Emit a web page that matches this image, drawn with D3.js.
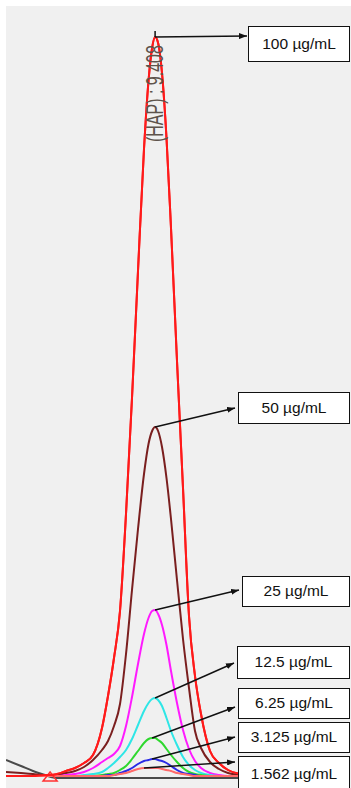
<!DOCTYPE html>
<html>
<head>
<meta charset="utf-8">
<script src="https://cdn.jsdelivr.net/npm/d3@7"></script>
<style>
  html, body { margin: 0; padding: 0; background: #ffffff; }
  svg { display: block; }
</style>
</head>
<body>
<svg id="chart" width="351" height="788"></svg>
<script>
// ---- Data (retention time in min, signal in mAU) ----
const times = [8.91, 8.96, 9.00, 9.04, 9.06, 9.08, 9.11, 9.14, 9.17, 9.20, 9.23, 9.25, 9.27, 9.29, 9.31, 9.33, 9.35, 9.37, 9.385, 9.397, 9.407, 9.417, 9.43, 9.445, 9.46, 9.48, 9.50, 9.52, 9.54, 9.56, 9.59, 9.62, 9.65, 9.69, 9.75, 9.85, 10.05];

const blank  = [16, 10, 5, 1, -1, -2, -2, -2, -2, -2, -2, -2, -2, -2, -2, -2, -2, -2, -2, -2, -2, -2, -2, -2, -2, -2, -2, -2, -2, -2, -2, -2, -2, -2, -2, -2, -2];
const c100   = [0, 0, 0, 1, 1, 2, 5, 8, 13, 21, 48, 80, 118, 165, 262, 378, 505, 627, 695, 728, 739, 733, 703, 638, 548, 415, 288, 160, 100, 62, 25, 13, 6, 2, 0, 0, 0];
const c50    = [4, 3, 2, 1, 1, 1, 3, 5, 9, 16, 26, 35, 50, 72, 122, 186, 247, 302, 332, 345, 349, 345, 329, 298, 257, 196, 137, 88, 45, 28, 14, 7, 3, 1, 0, 0, 0];
const c25    = [0, 0, 0, 0, 0, 0, 1, 2, 4, 8, 14, 18, 22, 30, 50, 79, 112, 142, 158, 165, 166, 162, 151, 131, 105, 73, 46, 27, 15, 8, 3, 1, 0, 0, 0, 0, 0];
const c12_5  = [0, 0, 0, 0, 0, 0, 0, 0, 1, 2, 4, 8, 13, 19, 26, 37, 51, 65, 73, 77, 78, 76, 70, 58, 45, 31, 19, 11, 6, 3, 1, 0, 0, 0, 0, 0, 0];
const c6_25  = [0, 0, 0, 0, 0, 0, 0, 0, 0, 0, 1, 2, 3, 6, 10, 17, 25, 33, 37, 38, 38, 36, 33, 27, 21, 14, 8, 4, 2, 1, 0, 0, 0, 0, 0, 0, 0];
const c3_125 = [0, 0, 0, 0, 0, 0, 0, 0, 0, 0, 0, 1, 1, 3, 5, 8, 12, 15, 16, 17, 17, 16, 15, 13, 10, 6, 3, 2, 1, 0, 0, 0, 0, 0, 0, 0, 0];
const c1_562 = [0, 0, 0, 0, 0, 0, 0, 0, 0, 0, 0, 0, 1, 2, 3, 5, 7, 8, 8, 8, 8, 8, 7, 6, 5, 3, 2, 1, 0, 0, 0, 0, 0, 0, 0, 0, 0];

const seriesNames  = ["blank", "100 µg/mL", "50 µg/mL", "25 µg/mL", "12.5 µg/mL", "6.25 µg/mL", "3.125 µg/mL", "1.562 µg/mL"];
const seriesValues = [blank, c100, c50, c25, c12_5, c6_25, c3_125, c1_562];
const seriesColors = ["#4a4a4a", "#ff1a1a", "#7a1f1f", "#ff1aff", "#2ee6e6", "#2ed82e", "#2a2ae6", "#ff6a6a"];

const peakLabel = "(HAP) : 9.408";
const peakStartTime = 9.057;

// annotation boxes (label layout)
const labelBoxes = [
  { name: "100 µg/mL",   x: 248, y: 26,  w: 102, h: 36, tip: [247, 36] },
  { name: "50 µg/mL",    x: 238, y: 392, w: 112, h: 32, tip: [235, 408] },
  { name: "25 µg/mL",    x: 242, y: 576, w: 108, h: 31, tip: [239, 590] },
  { name: "12.5 µg/mL",  x: 237, y: 646, w: 113, h: 33, tip: [234, 663] },
  { name: "6.25 µg/mL",  x: 238, y: 688, w: 112, h: 31, tip: [235, 707] },
  { name: "3.125 µg/mL", x: 238, y: 722, w: 112, h: 31, tip: [235, 737] },
  { name: "1.562 µg/mL", x: 238, y: 756, w: 112, h: 36, tip: [235, 762] }
];

// ---- Drawing ----
const W = 351, H = 788;
const svg = d3.select("#chart");

const plot = { left: 6, top: 6, right: 351, bottom: 788 };

const x = d3.scaleLinear().domain([8.9, 10.05]).range([3, 348]);
const y = d3.scaleLinear().domain([0, 740]).range([776, 36]);

svg.append("rect").attr("x", 0).attr("y", 0).attr("width", W).attr("height", H).attr("fill", "#ffffff");
svg.append("rect")
  .attr("x", plot.left).attr("y", plot.top)
  .attr("width", plot.right - plot.left).attr("height", plot.bottom - plot.top)
  .attr("fill", "#f0f0f0");

svg.append("defs").append("clipPath").attr("id", "clip")
  .append("rect").attr("x", plot.left).attr("y", plot.top)
  .attr("width", plot.right - plot.left).attr("height", plot.bottom - plot.top);

svg.select("defs").append("marker")
  .attr("id", "arrow").attr("viewBox", "0 0 8 6")
  .attr("refX", 8).attr("refY", 3)
  .attr("markerWidth", 8).attr("markerHeight", 6)
  .attr("markerUnits", "userSpaceOnUse")
  .attr("orient", "auto")
  .append("path").attr("d", "M0,0 L8,3 L0,6 Z").attr("fill", "#111");

const g = svg.append("g").attr("clip-path", "url(#clip)");

const line = d3.line()
  .x((d, i) => x(times[i]))
  .y(d => y(d))
  .curve(d3.curveMonotoneX);

seriesValues.forEach((vals, k) => {
  g.append("path")
    .datum(vals)
    .attr("d", line)
    .attr("fill", "none")
    .attr("stroke", seriesColors[k])
    .attr("stroke-width", 2)
    .attr("stroke-linejoin", "round");
});

// peak start marker (triangle on baseline)
const px = x(peakStartTime), py = y(0);
g.append("path")
  .attr("d", `M${px - 7},${py + 5} L${px},${py - 4} L${px + 7},${py + 5} Z`)
  .attr("fill", "none").attr("stroke", "#ff3030").attr("stroke-width", 1.5);

// rotated peak label
const apexIdx = d3.maxIndex(c100);
svg.append("text")
  .attr("transform", `translate(${x(times[apexIdx]) + 8},142) rotate(-90) scale(1,1.45)`)
  .attr("font-family", "'Liberation Sans', Arial, sans-serif")
  .attr("font-size", 16)
  .attr("fill", "#5e544c")
  .text(peakLabel);

// redraw the 100 trace over the label (it crosses the label)
g.append("path")
  .datum(c100)
  .attr("d", line)
  .attr("fill", "none")
  .attr("stroke", seriesColors[1])
  .attr("stroke-width", 2);

// arrows and label boxes
labelBoxes.forEach(b => {
  const k = seriesNames.indexOf(b.name);
  const vals = seriesValues[k];
  const i = d3.maxIndex(vals);
  const sx = x(times[i]), sy = y(vals[i]);
  if (k === 1) {
    svg.append("line").attr("x1", sx).attr("y1", sy - 6).attr("x2", sx).attr("y2", sy)
      .attr("stroke", "#111").attr("stroke-width", 1.5);
  }
  svg.append("line")
    .attr("x1", sx).attr("y1", sy)
    .attr("x2", b.tip[0]).attr("y2", b.tip[1])
    .attr("stroke", "#111").attr("stroke-width", 1.4)
    .attr("marker-end", "url(#arrow)");
  svg.append("rect")
    .attr("x", b.x + 0.5).attr("y", b.y + 0.5)
    .attr("width", b.w - 1).attr("height", b.h - 1)
    .attr("fill", "#ffffff").attr("stroke", "#111").attr("stroke-width", 1);
  svg.append("text")
    .attr("x", b.x + b.w / 2).attr("y", b.y + b.h / 2 - 1)
    .attr("text-anchor", "middle").attr("dominant-baseline", "central")
    .attr("font-family", "'Liberation Sans', Arial, sans-serif")
    .attr("font-size", 15.5)
    .attr("fill", "#111")
    .text(b.name);
});
</script>
</body>
</html>
